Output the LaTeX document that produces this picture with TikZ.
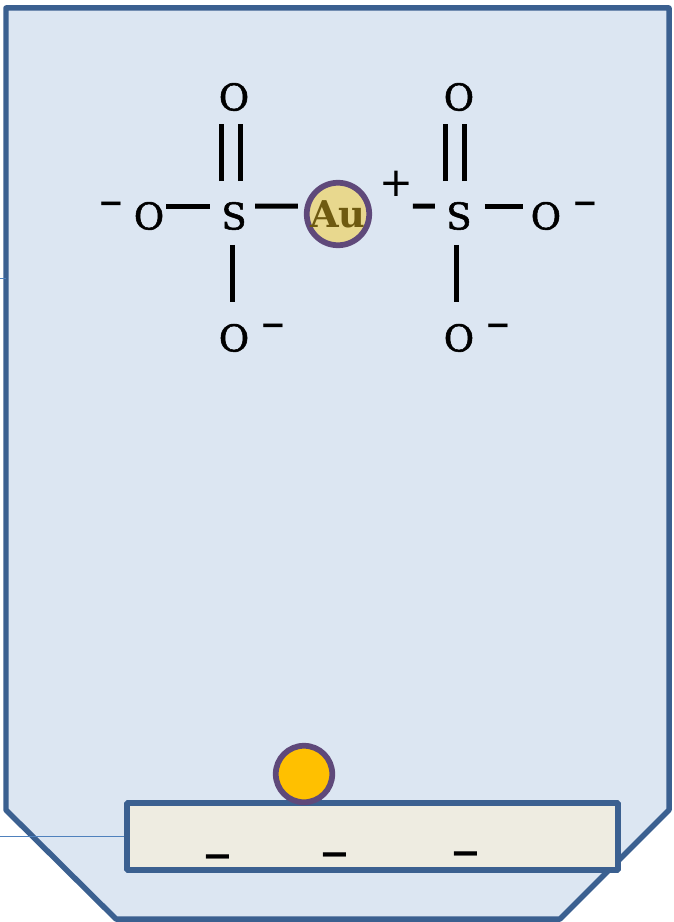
\documentclass[tikz,border=0pt]{standalone}
\usepackage{fontspec}
\setmainfont{DejaVu Serif}
\newfontfamily\atomfont[FakeBold=1.5]{DejaVu Serif}
\newfontfamily\chargefont{DejaVu Sans}
\usetikzlibrary{positioning}
\definecolor{framecol}{HTML}{3B6090}
\definecolor{panelcol}{HTML}{DCE6F2}
\definecolor{slabcol}{HTML}{EEECE1}
\definecolor{ringcol}{HTML}{5F497A}
\definecolor{goldcol}{HTML}{FFC000}
\definecolor{aucol}{HTML}{E8D88E}
\definecolor{autext}{HTML}{6E5A10}
\definecolor{wirecol}{HTML}{4F81BD}

\begin{document}
\begin{tikzpicture}[
        x=0.02cm, y=-0.02cm,
        on grid,
        frame/.style={draw=framecol, line width=0.11cm, line join=round, fill=panelcol},
        slab/.style={rectangle, draw=framecol, line width=0.115cm, rounded corners=0.5pt, fill=slabcol, minimum width=9.82cm, minimum height=1.34cm},
        wire/.style={draw=wirecol, line width=0.03cm},
        atom/.style={inner sep=0pt, font=\atomfont\fontsize{21}{21}\selectfont},
        ring/.style={circle, draw=ringcol, line width=0.115cm, inner sep=0pt},
        bond/.style={line width=0.1cm},
        charge/.style={inner sep=0pt, font=\chargefont\bfseries\fontsize{17.5}{17.5}\selectfont},
        pluscharge/.style={inner sep=0pt, font=\chargefont\fontsize{23}{23}\selectfont},
        slabcharge/.style={inner sep=0pt, font=\chargefont\bfseries\fontsize{21}{21}\selectfont}
    ]
    \useasboundingbox (0,0) rectangle (673,922);

    % Outline
    \draw[frame] (6,8) -- (669,8) -- (669,810) -- (560,919) -- (116,919) -- (6,810) -- cycle;

    % Left sulfate
    \node[atom] (s1) at (234,216) {S};
    \node[atom, above=2.38cm of s1] (o1top) {O};
    \node[atom, left=1.7cm of s1] (o1left) {O};
    \node[atom, below=2.44cm of s1] (o1bot) {O};

    % Gold ion
    \node[ring, fill=aucol, minimum size=1.25cm, right=2.08cm of s1, yshift=0.04cm, font=\bfseries\fontsize{21}{21}\selectfont, text=autext] (au) {Au};

    % Right sulfate
    \node[atom, right=4.5cm of s1] (s2) {S};
    \node[atom, above=2.38cm of s2] (o2top) {O};
    \node[atom, right=1.74cm of s2] (o2right) {O};
    \node[atom, below=2.44cm of s2] (o2bot) {O};

    % Charges
    \node[charge, left=0.75cm of o1left, yshift=0.16cm] (q1) {−};
    \node[charge, right=0.78cm of o1bot, yshift=0.16cm] (q2) {−};
    \node[charge, right=0.78cm of o2bot, yshift=0.16cm] (q3) {−};
    \node[charge, right=0.78cm of o2right, yshift=0.16cm] (q4) {−};
    \node[pluscharge, right=1.16cm of au, yshift=0.6cm] (plus) {+};

    % Bonds
    \draw[bond, shorten <=0.7cm, shorten >=0.54cm] ([xshift=-0.26cm]s1.center) -- ([xshift=-0.26cm]o1top.center);
    \draw[bond, shorten <=0.7cm, shorten >=0.54cm] ([xshift=0.12cm]s1.center) -- ([xshift=0.12cm]o1top.center);
    \draw[bond, shorten <=0.34cm, shorten >=0.48cm] ([yshift=0.2cm]o1left.center) -- ([yshift=0.2cm]s1.center);
    \draw[bond, shorten <=0.58cm, shorten >=0.72cm] ([xshift=-0.04cm]s1.center) -- ([xshift=-0.04cm]o1bot.center);
    \draw[bond, shorten <=0.42cm, shorten >=0.8cm] ([yshift=0.2cm]s1.center) -- ([yshift=0.16cm]au.center);
    \draw[bond, shorten <=1.5cm, shorten >=0.48cm] ([yshift=0.16cm]au.center) -- ([yshift=0.2cm]s2.center);
    \draw[bond, shorten <=0.7cm, shorten >=0.54cm] ([xshift=-0.26cm]s2.center) -- ([xshift=-0.26cm]o2top.center);
    \draw[bond, shorten <=0.7cm, shorten >=0.54cm] ([xshift=0.12cm]s2.center) -- ([xshift=0.12cm]o2top.center);
    \draw[bond, shorten <=0.52cm, shorten >=0.46cm] ([yshift=0.2cm]s2.center) -- ([yshift=0.2cm]o2right.center);
    \draw[bond, shorten <=0.58cm, shorten >=0.72cm] ([xshift=-0.04cm]s2.center) -- ([xshift=-0.04cm]o2bot.center);

    % Slab and gold particle
    \node[slab] (slab) at (372.5,836.5) {};
    \node[ring, fill=goldcol, minimum size=1.13cm] (gold) at (304,774) {};
    \node[slabcharge] (qa) at (218,862) {−};
    \node[slabcharge] (qb) at (335,860) {−};
    \node[slabcharge] (qc) at (466,858.5) {−};

    % Wires
    \coordinate (wirein) at (0,836.5);
    \coordinate (stubin) at (0,278.5);
    \coordinate (stubout) at (6,278.5);
    \draw[wire] (wirein) -- (slab.west);
    \draw[wire] (stubin) -- (stubout);
\end{tikzpicture}
\end{document}
